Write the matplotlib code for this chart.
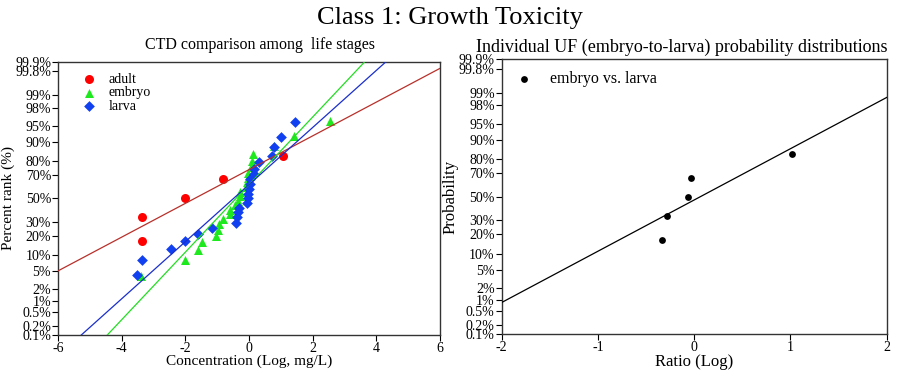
import numpy as np
from statistics import NormalDist
from matplotlib import pyplot as plt

plt.rcParams['font.family'] = ['Liberation Serif', 'DejaVu Serif']
plt.rcParams['axes.unicode_minus'] = False

# percent rank values (probability scale)
adult_x = [-3.35, -3.35, -2.0, -0.82, 1.07]
adult_y = [16.7, 33.3, 50.0, 66.7, 83.3]

embryo_x = [-3.40, -2.0, -1.59, -1.47, -1.05, -0.96, -0.93, -0.83, -0.60, -0.58, -0.45, -0.34,
            -0.29, -0.27, -0.08, -0.06, -0.03, -0.03, 0.08, 0.11, 0.13, 0.78, 1.43, 2.54]
embryo_y = [4, 8, 12, 16, 20, 24, 28, 32, 36, 40, 44, 48,
            52, 56, 60, 64, 68, 72, 76, 80, 84, 88, 92, 96]

larva_x = [-3.53, -3.35, -2.44, -2.0, -1.61, -1.17, -0.40, -0.37, -0.33, -0.30, -0.07, -0.03,
           -0.03, 0.0, 0.02, 0.04, 0.15, 0.15, 0.32, 0.74, 0.78, 1.0, 1.44]
larva_y = [4.2, 8.3, 12.5, 16.7, 20.8, 25.0, 29.2, 33.3, 37.5, 41.7, 45.8, 50.0,
           54.2, 58.3, 62.5, 66.7, 70.8, 75.0, 79.2, 83.3, 87.5, 91.7, 95.8]

# fitted normal lines (mean, sd)
adult_fit = (-1.70, 2.62)
embryo_fit = (-0.405, 1.309)
larva_fit = (-0.48, 1.549)

uf_x = [-0.33, -0.286, -0.064, -0.036, 1.02]
uf_y = [16.7, 33.3, 50.0, 66.7, 83.3]
uf_fit = (0.0625, 0.868)

pct_ticks = [0.1, 0.2, 0.5, 1, 2, 5, 10, 20, 30, 50, 70, 80, 90, 95, 98, 99, 99.8, 99.9]
pct_labels = [('%g' % p) + '%' for p in pct_ticks]

nd = NormalDist()
_ppf = np.vectorize(nd.inv_cdf, otypes=[float])
_cdf = np.vectorize(nd.cdf, otypes=[float])


def fwd(p):
    p = np.clip(np.asarray(p, dtype=float) / 100.0, 1e-12, 1 - 1e-12)
    return _ppf(p)


def inv(z):
    return _cdf(np.asarray(z, dtype=float)) * 100.0


def fit_line(ax, fit, xlim, color):
    xs = np.linspace(xlim[0], xlim[1], 60)
    mu, sd = fit
    ys = inv((xs - mu) / sd)
    ax.plot(xs, ys, color=color, linewidth=0.9, zorder=4)


def prob_axis(ax):
    ax.set_yscale('function', functions=(fwd, inv))
    ax.set_ylim(0.1, 99.9)
    ax.set_yticks(pct_ticks)
    ax.set_yticklabels(pct_labels)
    ax.minorticks_off()
    ax.tick_params(labelsize=10, length=4, width=0.8, direction='out', pad=1)
    for s in ax.spines.values():
        s.set_linewidth(1.0)
        s.set_color('#333333')


fig = plt.figure(figsize=(9, 3.79), dpi=100)
ax1 = fig.add_axes([0.0644, 0.1161, 0.4244, 0.7211])
ax2 = fig.add_axes([0.5574, 0.1180, 0.4278, 0.7256])

prob_axis(ax1)
ax1.scatter(adult_x, adult_y, marker='o', s=42, color='#ff0000', label='adult', zorder=3, linewidths=0)
ax1.scatter(embryo_x, embryo_y, marker='^', s=42, color='#1ee81e', label='embryo', zorder=3, linewidths=0)
ax1.scatter(larva_x, larva_y, marker='D', s=30, color='#1040f0', label='larva', zorder=3, linewidths=0)
fit_line(ax1, adult_fit, (-6, 6), '#b8302a')
fit_line(ax1, embryo_fit, (-6, 6), '#22dd22')
fit_line(ax1, larva_fit, (-6, 6), '#1a2fcc')
ax1.set_xlim(-6, 6)
ax1.set_xticks([-6, -4, -2, 0, 2, 4, 6])
ax1.set_ylim(0.1, 99.9)
ax1.set_xlabel('Concentration (Log, mg/L)', fontsize=11, labelpad=0)
ax1.set_ylabel('Percent rank (%)', fontsize=11, labelpad=0)
ax1.legend(loc='upper left', bbox_to_anchor=(0.03, 0.98), frameon=False, fontsize=10,
           labelspacing=0.05, handletextpad=0.4, borderaxespad=0, scatterpoints=1)

prob_axis(ax2)
ax2.scatter(uf_x, uf_y, marker='o', s=24, color='black', label='embryo vs. larva', zorder=3, linewidths=0)
fit_line(ax2, uf_fit, (-2, 2), 'black')
ax2.set_xlim(-2, 2)
ax2.set_xticks([-2, -1, 0, 1, 2])
ax2.set_ylim(0.1, 99.9)
ax2.set_xlabel('Ratio (Log)', fontsize=12, labelpad=0)
ax2.set_ylabel('Probability', fontsize=12, labelpad=0)
ax2.legend(loc='upper left', bbox_to_anchor=(0.0, 0.98), frameon=False, fontsize=11.5,
           handletextpad=0.6, borderaxespad=0, scatterpoints=1)

fig.text(0.5, 0.952, 'Class 1: Growth Toxicity', ha='center', va='center', fontsize=19)
fig.text(0.289, 0.88, 'CTD comparison among  life stages', ha='center', va='center', fontsize=11.5)
fig.text(0.758, 0.875, 'Individual UF (embryo-to-larva) probability distributions', ha='center', va='center', fontsize=13)

plt.savefig('out.png', dpi=100)
